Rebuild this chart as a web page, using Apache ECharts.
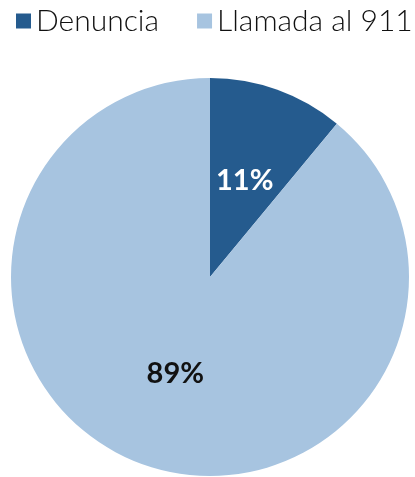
<!DOCTYPE html>
<html>
<head>
<meta charset="utf-8">
<script src="https://cdn.jsdelivr.net/npm/echarts@6/dist/echarts.min.js"></script>
<style>
  html, body { margin: 0; padding: 0; background: #fff; }
  #chart { width: 415px; height: 477px; }
</style>
</head>
<body>
<div id="chart"></div>
<script>
// datos
const categorias = ['Denuncia', 'Llamada al 911'];
const valores = [11, 89];
const colores = ['#255b8e', '#a7c4e0'];
const colorEtiqueta = ['#ffffff', '#111111'];

const chart = echarts.init(document.getElementById('chart'));

chart.setOption({
    animation: false,
    legend: {
        data: categorias,
        left: 16,
        top: 6,
        width: 405,
        padding: 0,
        icon: 'rect',
        itemWidth: 15,
        itemHeight: 15,
        itemGap: 38,
        textStyle: {
            fontFamily: 'Lato',
            fontSize: 30,
            fontWeight: 300,
            color: '#111',
            padding: [8, 0, 0, 0]
        }
    },
    series: [{
        type: 'pie',
        center: [210, 277],
        radius: 199,
        startAngle: 90,
        clockwise: true,
        label: {
            show: true,
            position: 'inside',
            formatter: '{d}%',
            fontFamily: 'Lato',
            fontSize: 29,
            fontWeight: 'bold'
        },
        labelLine: { show: false },
        data: categorias.map((c, i) => ({
            name: c,
            value: valores[i],
            itemStyle: { color: colores[i] },
            label: { color: colorEtiqueta[i] }
        }))
    }]
});
</script>
</body>
</html>
